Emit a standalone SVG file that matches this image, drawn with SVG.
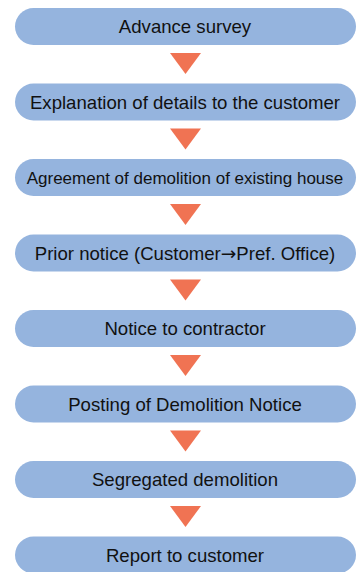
<svg xmlns="http://www.w3.org/2000/svg" width="363" height="572" viewBox="0 0 363 572">
<defs>
<style>
.pill{fill:#95B4DE;}
.t{font-family:"Liberation Sans",Arial,sans-serif;font-size:18.6px;fill:#111;text-anchor:middle;}
.s{font-size:17px;}
.a{font-family:"DejaVu Sans",sans-serif;}
.arr{fill:#F07353;}
</style>
</defs>
<rect width="363" height="572" fill="#fff"/>
<g id="connectors">
<polygon class="arr" points="170,53 201,53 185.5,74"/>
<polygon class="arr" points="170,128.5 201,128.5 185.5,149.5"/>
<polygon class="arr" points="170,204 201,204 185.5,225"/>
<polygon class="arr" points="170,279.5 201,279.5 185.5,300.5"/>
<polygon class="arr" points="170,355 201,355 185.5,376"/>
<polygon class="arr" points="170,430.5 201,430.5 185.5,451.5"/>
<polygon class="arr" points="170,506 201,506 185.5,527"/>
</g>
<g id="n1"><rect class="pill" x="15" y="8" width="341" height="37" rx="18.5"/><text class="t" x="185" y="33">Advance survey</text></g>
<g id="n2"><rect class="pill" x="15" y="83.5" width="341" height="37" rx="18.5"/><text class="t" x="185" y="108.5">Explanation of details to the customer</text></g>
<g id="n3"><rect class="pill" x="15" y="159" width="341" height="37" rx="18.5"/><text class="t s" x="185" y="184">Agreement of demolition of existing house</text></g>
<g id="n4"><rect class="pill" x="15" y="234.5" width="341" height="37" rx="18.5"/><text class="t" x="185" y="259.5">Prior notice (Customer<tspan class="a">→</tspan>Pref. Office)</text></g>
<g id="n5"><rect class="pill" x="15" y="310" width="341" height="37" rx="18.5"/><text class="t" x="185" y="335">Notice to contractor</text></g>
<g id="n6"><rect class="pill" x="15" y="385.5" width="341" height="37" rx="18.5"/><text class="t" x="185" y="410.5">Posting of Demolition Notice</text></g>
<g id="n7"><rect class="pill" x="15" y="461" width="341" height="37" rx="18.5"/><text class="t" x="185" y="486">Segregated demolition</text></g>
<g id="n8"><rect class="pill" x="15" y="536.5" width="341" height="37" rx="18.5"/><text class="t" x="185" y="561.5">Report to customer</text></g>
</svg>
